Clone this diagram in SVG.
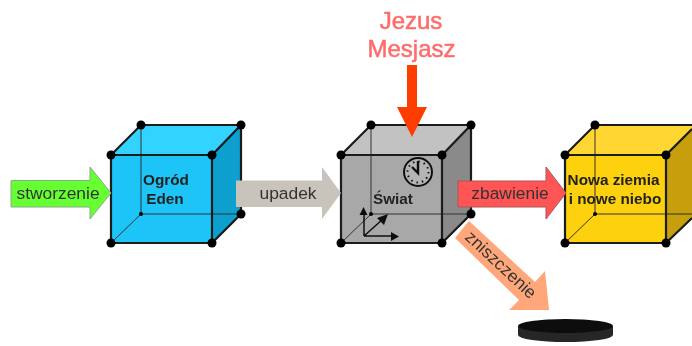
<svg xmlns="http://www.w3.org/2000/svg" width="692" height="346" viewBox="0 0 692 346">
<defs>
<filter id="soft" x="-5%" y="-5%" width="110%" height="110%"><feGaussianBlur stdDeviation="0.6"/></filter>
</defs>
<style>
text{font-family:"Liberation Sans",Arial,sans-serif;text-anchor:middle}
.b{font-weight:bold;font-size:15.3px;fill:#222}
.l{font-size:17.4px;fill:#333}
.e{fill:none;stroke:#1a1a1a;stroke-width:2.2}
.t{fill:none;stroke:#333;stroke-width:1}
.j{font-size:24px;fill:#ff6b6b;stroke:#ff6b6b;stroke-width:0.5}
</style>
<rect width="692" height="346" fill="#fff"/>
<g filter="url(#soft)">
<g id="node-eden">
<rect x="111" y="155" width="101" height="88" fill="#1dc4f8"/>
<polygon points="111,155 141,125 241,125 212,155" fill="#33d4ff"/>
<polygon points="212,155 241,125 241,214 212,243" fill="#0aa0cf"/>
<path class="t" d="M141,125V214H241M141,214L111,243"/>
<path class="e" d="M111,155H212V243H111ZM111,155L141,125H241L212,155M241,125V214L212,243"/>
<g fill="#000"><circle cx="111" cy="155" r="4.5"/><circle cx="212" cy="155" r="4.5"/><circle cx="111" cy="243" r="4.5"/><circle cx="212" cy="243" r="4.5"/><circle cx="141" cy="125" r="4.5"/><circle cx="241" cy="125" r="4.5"/><circle cx="241" cy="214" r="4.5"/><circle cx="141" cy="214" r="2"/></g>
<text class="b" x="166" y="185">Ogród</text><text class="b" x="165" y="204">Eden</text>
</g>
<g id="node-swiat">
<rect x="341" y="155" width="101" height="88" fill="#a8a8a8"/>
<polygon points="341,155 371,125 471,125 442,155" fill="#c2c2c2"/>
<polygon points="442,155 471,125 471,214 442,243" fill="#8a8a8a"/>
<path class="t" d="M371,125V214H471M371,214L341,243"/>
<path class="e" d="M341,155H442V243H341ZM341,155L371,125H471L442,155M471,125V214L442,243"/>
<g fill="#000"><circle cx="341" cy="155" r="4.5"/><circle cx="442" cy="155" r="4.5"/><circle cx="341" cy="243" r="4.5"/><circle cx="442" cy="243" r="4.5"/><circle cx="371" cy="125" r="4.5"/><circle cx="471" cy="125" r="4.5"/><circle cx="471" cy="214" r="4.5"/><circle cx="371" cy="214" r="2"/></g>
<circle cx="418" cy="172" r="14" fill="#b4b4b4" stroke="#111" stroke-width="2"/>
<circle cx="418" cy="172" r="10.5" fill="none" stroke="#111" stroke-width="2" stroke-dasharray="1.5 4"/>
<path d="M418,161V173L412,167" fill="none" stroke="#111" stroke-width="2.4"/>
<text class="b" x="393" y="204">Świat</text>
<path d="M364,236V212M364,236H393M364,236L383,219" fill="none" stroke="#111" stroke-width="1.5"/>
<path d="M363.500,207L359.500,215H367.500ZM399,236.500L391,232V241ZM388,214L377,218L384,225Z" fill="#111"/>
</g>
<g id="node-nowa">
<rect x="565" y="155" width="101" height="88" fill="#fdd10e"/>
<polygon points="565,155 595,125 692,125 692,129 666,155" fill="#ffd633"/>
<polygon points="666,155 692,129 692,218 666,243" fill="#c79f0a"/>
<path class="t" d="M595,125V214H692M595,214L565,243"/>
<path class="e" d="M565,155H666V243H565ZM565,155L595,125H692M692,129L666,155M692,218L666,243"/>
<g fill="#000"><circle cx="565" cy="155" r="4.5"/><circle cx="666" cy="155" r="4.5"/><circle cx="565" cy="243" r="4.5"/><circle cx="666" cy="243" r="4.5"/><circle cx="595" cy="125" r="4.5"/><circle cx="595" cy="214" r="2"/></g>
<text class="b" x="613.500" y="185">Nowa ziemia</text><text class="b" x="615" y="204">i nowe niebo</text>
</g>
<g id="node-dysk">
<path d="M518,326V335A47.500,7 0 0 0 613,335V326Z" fill="#262626"/>
<ellipse cx="565.500" cy="326" rx="47.500" ry="7" fill="#111"/>
</g>
<g id="node-jezus">
<text class="j" x="411" y="29">Jezus</text>
<text class="j" x="411.500" y="57">Mesjasz</text>
</g>
<g id="connectors">
<polygon points="11,180.500 90,180.500 90,167 111,193 90,219 90,207 11,207" fill="#66ff33" stroke="#8a8" stroke-width="1"/>
<polygon points="236,180.500 322,180.500 322,167 341,193 322,219 322,207 236,207" fill="#c8c4bc"/>
<polygon points="458,181 546,181 546,167 566,193 546,219 546,207 458,207" fill="#ff5555" stroke="#a55" stroke-width="1"/>
<polygon points="469,221 455,238 519,300 509,310 549,310 545,271 535,282" fill="#ffa67a"/>
<polygon points="407,65 417,65 417,107 427,107 412,137 397,107 407,107" fill="#ff3c00"/>
<text class="l" x="58" y="199">stworzenie</text>
<text class="l" x="288" y="199">upadek</text>
<text class="l" x="510" y="199">zbawienie</text>
<text class="l" transform="translate(497,269) rotate(43)">zniszczenie</text>
</g>
</g>
</svg>
